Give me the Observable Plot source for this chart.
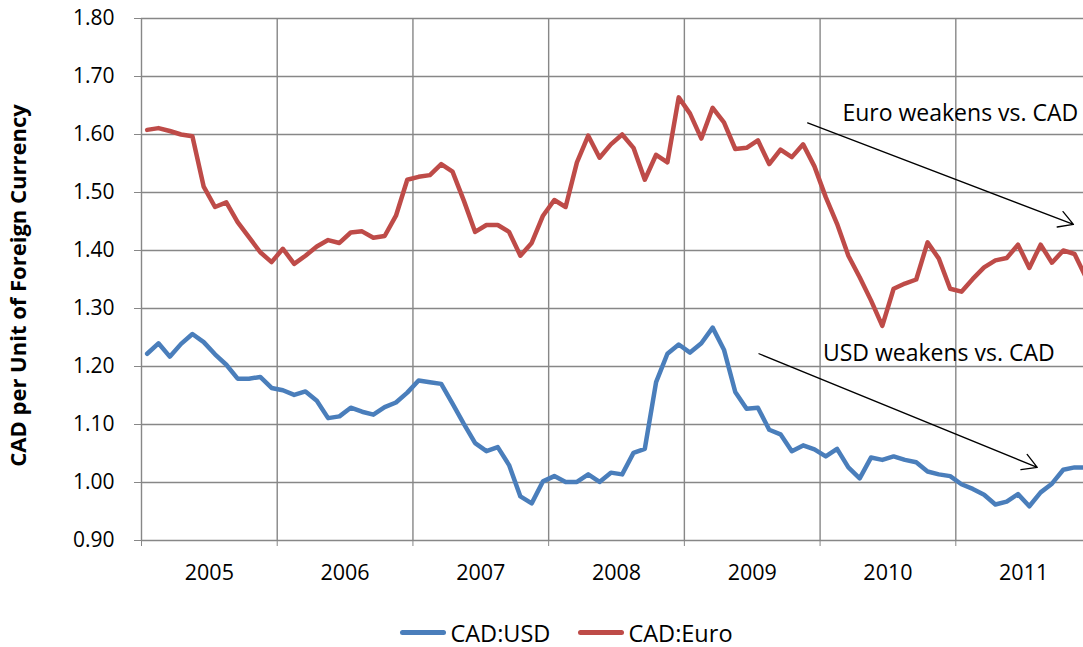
<!DOCTYPE html>
<html><head><meta charset="utf-8">
<script src="https://cdn.jsdelivr.net/npm/d3@7"></script>
<script src="https://cdn.jsdelivr.net/npm/@observablehq/plot@0.6"></script>
<style>
body{margin:0;background:#fff;font-family:"Open Sans",sans-serif;overflow:hidden;}
#legend{display:flex;justify-content:center;align-items:center;height:29px;padding-top:8px;font-size:23.5px;color:#000;padding-left:50px;}
#legend .item{display:flex;align-items:center;margin:0 14px;}
#legend .sw{display:inline-block;width:46px;height:5px;border-radius:3px;margin-right:4px;}
</style></head><body><div id="chart"></div><div id="legend"></div>
<script>
const years = [2005, 2006, 2007, 2008, 2009, 2010, 2011];
const yTicks = [0.9, 1.0, 1.1, 1.2, 1.3, 1.4, 1.5, 1.6, 1.7, 1.8];
const seriesNames = ["CAD:USD", "CAD:Euro"];
const seriesColors = ["#4a7ebb", "#be4b48"];
// monthly values, Jan 2005 .. Dec 2011
const cadUsd = [1.222,1.240,1.217,1.239,1.256,1.242,1.221,1.203,1.179,1.179,1.182,1.163,
1.159,1.151,1.157,1.141,1.111,1.114,1.129,1.122,1.117,1.130,1.138,1.155,
1.176,1.173,1.170,1.136,1.101,1.068,1.054,1.061,1.030,0.976,0.964,1.002,
1.011,1.001,1.001,1.014,1.001,1.017,1.014,1.051,1.058,1.173,1.222,1.238,
1.224,1.240,1.267,1.229,1.156,1.127,1.129,1.091,1.083,1.054,1.064,1.057,
1.045,1.058,1.026,1.007,1.043,1.039,1.045,1.039,1.035,1.019,1.014,1.011,
0.997,0.989,0.979,0.962,0.967,0.980,0.959,0.983,0.998,1.022,1.026,1.026];
const cadEuro = [1.608,1.611,1.606,1.600,1.597,1.510,1.475,1.483,1.449,1.423,1.397,1.380,
1.403,1.377,1.391,1.407,1.418,1.413,1.431,1.433,1.422,1.425,1.460,1.522,
1.527,1.530,1.549,1.536,1.486,1.432,1.444,1.444,1.432,1.391,1.413,1.460,
1.487,1.475,1.552,1.598,1.560,1.583,1.600,1.577,1.522,1.565,1.552,1.664,
1.636,1.593,1.646,1.621,1.575,1.577,1.590,1.549,1.574,1.561,1.583,1.545,
1.492,1.446,1.391,1.354,1.314,1.270,1.334,1.343,1.350,1.414,1.386,1.334,
1.329,1.351,1.371,1.383,1.387,1.410,1.370,1.410,1.379,1.400,1.394,1.354];
const yTitle = "CAD per Unit of Foreign Currency";
// annotations (month index, value)
const noteText = ["Euro weakens vs. CAD", "USD weakens vs. CAD"];
const noteX = [71.9, 70.0];
const noteY = [1.636, 1.223];
const arrowX1 = [58.4, 54.1], arrowY1 = [1.620, 1.222];
const arrowX2 = [81.9, 78.7], arrowY2 = [1.445, 1.026];

const yearBounds = years.map((y, i) => i * 12 - 0.5);
const grid = "#878787";

const plot = Plot.plot({
  width: 1083, height: 610,
  marginLeft: 141, marginRight: 0, marginTop: 18, marginBottom: 70,
  style: {fontFamily: "'Open Sans', sans-serif", fontSize: "21px", color: "#000", background: "white"},
  x: {domain: [-0.5, 82.79]},
  y: {domain: [0.9, 1.8]},
  marks: [
    Plot.ruleY(yTicks, {stroke: grid, strokeWidth: 1.4}),
    Plot.ruleX(yearBounds, {stroke: grid, strokeWidth: 1.4}),
    Plot.axisY({ticks: yTicks, tickFormat: d3.format(".2f"), tickSize: 7, tickPadding: 20, stroke: grid, fontSize: 21, label: null}),
    Plot.axisX({ticks: yearBounds, tickFormat: () => "", tickSize: 6, stroke: grid, label: null}),
    Plot.text(years, {x: (d, i) => i * 12 + 5.5, frameAnchor: "bottom", dy: 39, text: d => String(d), fontSize: 21.5}),
    Plot.text([yTitle], {frameAnchor: "left", dx: -123, dy: 6, rotate: -90, textAnchor: "middle", fontWeight: "bold", fontSize: 22}),
    Plot.lineY(cadUsd, {x: (d, i) => i, y: d => d, stroke: seriesColors[0], strokeWidth: 4.5, clip: true}),
    Plot.lineY(cadEuro, {x: (d, i) => i, y: d => d, stroke: seriesColors[1], strokeWidth: 4.5, clip: true}),
    Plot.arrow(noteText, {x1: (d, i) => arrowX1[i], y1: (d, i) => arrowY1[i], x2: (d, i) => arrowX2[i], y2: (d, i) => arrowY2[i], stroke: "black", strokeWidth: 1.3, headLength: 19, headAngle: 60}),
    Plot.text(noteText, {x: (d, i) => noteX[i], y: (d, i) => noteY[i], text: d => d, fontSize: 23})
  ]
});
document.getElementById("chart").appendChild(plot);
const lg = document.getElementById("legend");
seriesNames.forEach((n, i) => {
  const it = document.createElement("span"); it.className = "item";
  const sw = document.createElement("span"); sw.className = "sw"; sw.style.background = seriesColors[i];
  it.appendChild(sw); it.appendChild(document.createTextNode(n)); lg.appendChild(it);
});
</script></body></html>
